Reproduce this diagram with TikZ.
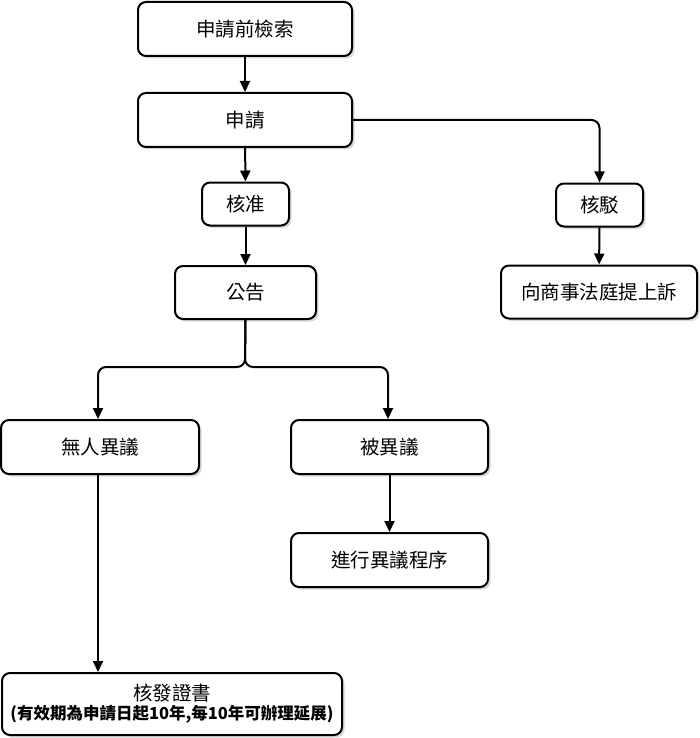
\documentclass[tikz,border=0pt]{standalone}
\usepackage{fontspec}
\setmainfont{Noto Sans CJK TC}
\usepackage{tikz}
\usetikzlibrary{arrows.meta, shadows}

\begin{document}
\begin{tikzpicture}[x=1pt, y=-1pt,
  box/.style={draw, line width=2pt, rounded corners=8pt, fill=white, align=center,
    inner sep=0pt, font=\fontsize{19.5}{22}\selectfont,
    drop shadow={shadow xshift=2.5pt, shadow yshift=-2.5pt, fill=black!30}},
  link/.style={line width=2pt, rounded corners=8pt, -{Triangle[width=10pt,length=11pt]}}]
\useasboundingbox (0,0) rectangle (700,738);

\node (S1) at (245,29) [box, minimum width=214pt, minimum height=54pt]{申請前檢索};
\node (S2) at (245,120) [box, minimum width=214pt, minimum height=54pt]{申請};
\node (A1) at (245.5,204) [box, minimum width=87pt, minimum height=43pt]{核准};
\node (A2) at (245.5,292.5) [box, minimum width=141pt, minimum height=53pt]{公告};
\node (R1) at (599.5,205) [box, minimum width=87pt, minimum height=43pt]{核駁};
\node (R2) at (599,292) [box, minimum width=196pt, minimum height=53pt]{向商事法庭提上訴};

\node (N1) at (100,447) [box, minimum width=198pt, minimum height=54pt]{無人異議};
\node (N2) at (172,704) [box, minimum width=340pt, minimum height=62pt]{核發證書\\[-3pt]
  {\fontsize{16.5}{19}\selectfont\bfseries (有效期為申請日起10年,每10年可辦理延展)}};
\node (O1) at (389.5,447) [box, minimum width=197pt, minimum height=54pt]{被異議};
\node (O2) at (389.5,560) [box, minimum width=197pt, minimum height=54pt]{進行異議程序};

\coordinate (split) at (245,367);

\draw[link] (S1)--(S2);
\draw[link] (S2)--(A1); \draw[link] (A1)--(A2);
\draw[link] (S2.east) -| (R1.north);
\draw[link] (R1)--(R2);
\draw[link] (A2.south) -- (split) -| (N1.north -| 98,0);
\draw[link] (A2.south) -- (split) -| (O1.north -| 388,0);
\draw[link] (N1.south -| 98,0) -- (N2.north -| 98,0);
\draw[link] (O1)--(O2);
\end{tikzpicture}
\end{document}
